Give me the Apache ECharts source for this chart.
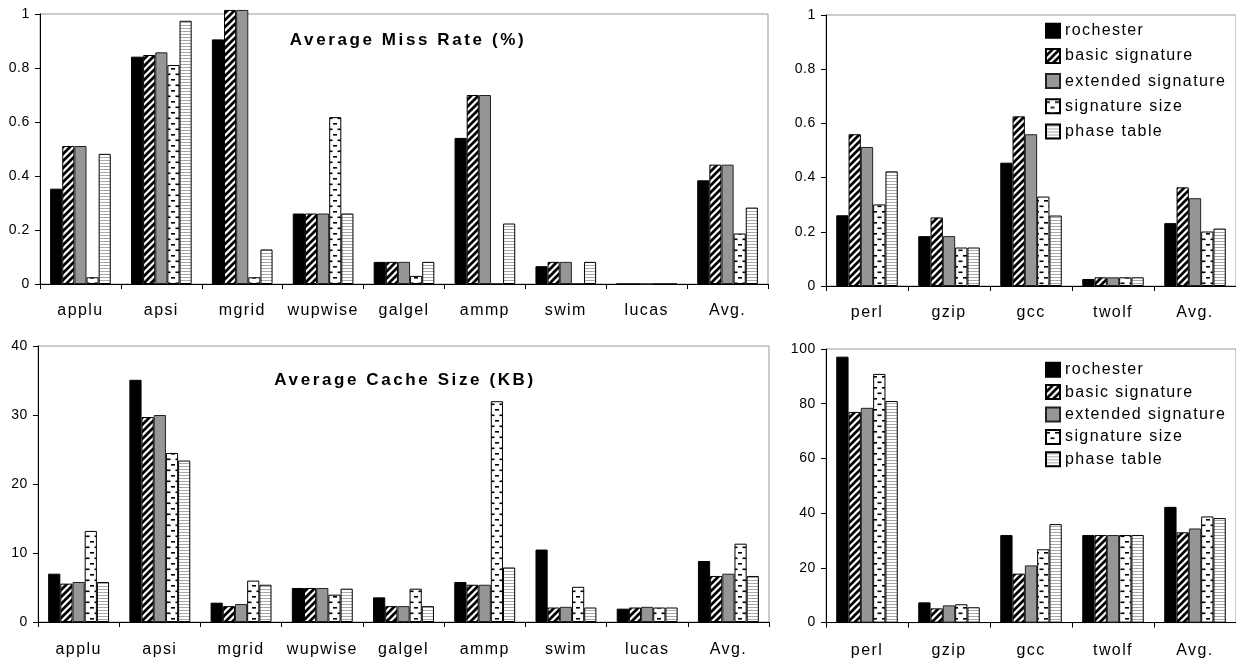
<!DOCTYPE html>
<html>
<head>
<meta charset="utf-8">
<title>Average Miss Rate and Cache Size</title>
<script src="https://cdn.jsdelivr.net/npm/echarts@6/dist/echarts.min.js"></script>
<style>
  html, body { margin: 0; padding: 0; background: #fff; }
  #chart { width: 1236px; height: 659px; }
</style>
</head>
<body>
<div id="chart"></div>
<script>
// ---- data ----------------------------------------------------------------
const fpBenchmarks = ['applu', 'apsi', 'mgrid', 'wupwise', 'galgel', 'ammp', 'swim', 'lucas', 'Avg.'];
const intBenchmarks = ['perl', 'gzip', 'gcc', 'twolf', 'Avg.'];
const schemeNames = ['rochester', 'basic signature', 'extended signature', 'signature size', 'phase table'];

// Average miss rate (%), SPEC FP
const missFpRochester = [0.353, 0.842, 0.906, 0.261, 0.082, 0.541, 0.066, 0, 0.384];
const missFpBasic     = [0.511, 0.848, 1.015, 0.261, 0.082, 0.700, 0.082, 0, 0.442];
const missFpExtended  = [0.511, 0.858, 1.015, 0.261, 0.082, 0.700, 0.082, 0, 0.442];
const missFpSigSize   = [0.025, 0.811, 0.025, 0.618, 0.030, 0,     0,     0, 0.187];
const missFpPhase     = [0.482, 0.975, 0.128, 0.261, 0.082, 0.224, 0.082, 0, 0.283];

// Average miss rate (%), SPEC INT
const missIntRochester = [0.261, 0.184, 0.455, 0.026, 0.232];
const missIntBasic     = [0.560, 0.253, 0.626, 0.032, 0.364];
const missIntExtended  = [0.513, 0.184, 0.560, 0.032, 0.324];
const missIntSigSize   = [0.301, 0.142, 0.330, 0.032, 0.201];
const missIntPhase     = [0.423, 0.142, 0.260, 0.032, 0.212];

// Average cache size (KB), SPEC FP
const sizeFpRochester = [7.0, 35.1, 2.8, 4.93, 3.57, 5.8, 10.5, 1.93, 8.84];
const sizeFpBasic     = [5.56, 29.7, 2.3, 4.93, 2.3, 5.4, 2.1, 2.1, 6.67];
const sizeFpExtended  = [5.8, 30.0, 2.6, 4.93, 2.3, 5.4, 2.2, 2.2, 7.0];
const sizeFpSigSize   = [13.2, 24.5, 6.0, 3.96, 4.83, 32.0, 5.1, 2.1, 11.35];
const sizeFpPhase     = [5.8, 23.4, 5.4, 4.83, 2.3, 7.9, 2.1, 2.1, 6.67];

// Average cache size (KB), SPEC INT
const sizeIntRochester = [97.2, 7.4, 32.0, 32.0, 42.3];
const sizeIntBasic     = [77.0, 5.2, 17.9, 32.0, 33.0];
const sizeIntExtended  = [78.5, 6.3, 20.9, 32.0, 34.4];
const sizeIntSigSize   = [90.9, 6.7, 26.8, 32.0, 38.8];
const sizeIntPhase     = [81.0, 5.6, 36.0, 32.0, 38.2];

const missTitle = 'Average Miss Rate (%)';
const sizeTitle = 'Average Cache Size (KB)';

// ---- loose letter spacing for chart text, keyed by font size (px) ---------
const LETTER_SPACING = { 14: 0.6, 16: 1.4, 17: 2.6 };
(function () {
  const proto = CanvasRenderingContext2D.prototype;
  if (!('letterSpacing' in proto)) return;
  const apply = (ctx) => {
    const m = /(\d+(?:\.\d+)?)px/.exec(ctx.font || '');
    const s = m ? LETTER_SPACING[Math.round(+m[1])] : 0;
    ctx.letterSpacing = (s || 0) + 'px';
  };
  ['fillText', 'strokeText', 'measureText'].forEach((fn) => {
    const orig = proto[fn];
    proto[fn] = function () { apply(this); return orig.apply(this, arguments); };
  });
})();

// ---- fill patterns ---------------------------------------------------------
function tile(w, h, draw) {
  const c = document.createElement('canvas');
  c.width = w; c.height = h;
  const ctx = c.getContext('2d');
  ctx.fillStyle = '#fff';
  ctx.fillRect(0, 0, w, h);
  draw(ctx, w, h);
  return { image: c, repeat: 'repeat' };
}
const diagonalStripes = tile(7, 7, (ctx, s) => {
  ctx.strokeStyle = '#000';
  ctx.lineWidth = 2.7;
  ctx.beginPath();
  ctx.moveTo(-1, 1); ctx.lineTo(1, -1);
  ctx.moveTo(0, s); ctx.lineTo(s, 0);
  ctx.moveTo(s - 1, s + 1); ctx.lineTo(s + 1, s - 1);
  ctx.stroke();
});
const brickDashes = tile(9, 11, (ctx) => {
  ctx.fillStyle = '#000';
  ctx.fillRect(0, 2, 4, 1.6);
  ctx.fillRect(4.5, 7.5, 4, 1.6);
});
const thinLines = tile(4, 3, (ctx) => {
  ctx.fillStyle = '#a8a8a8';
  ctx.fillRect(0, 1, 4, 1);
});

const schemeStyles = [
  { color: '#000', borderColor: '#000', borderWidth: 1 },
  { color: diagonalStripes, borderColor: '#000', borderWidth: 1 },
  { color: '#969696', borderColor: '#222', borderWidth: 1 },
  { color: brickDashes, borderColor: '#000', borderWidth: 1 },
  { color: thinLines, borderColor: '#000', borderWidth: 1 }
];

// ---- layout helpers --------------------------------------------------------
const FONT = '"Liberation Sans", Arial, sans-serif';

const grids = [
  { left: 40, top: 14, width: 728, height: 270 },   // miss rate, FP
  { left: 826, top: 15, width: 415, height: 271 },  // miss rate, INT
  { left: 38, top: 346, width: 731, height: 276 },  // cache size, FP
  { left: 826, top: 349, width: 415, height: 274 }  // cache size, INT
].map((g) => Object.assign(g, { show: true, borderColor: '#999', borderWidth: 1, backgroundColor: 'transparent' }));

function categoryAxis(gridIndex, data, margin) {
  return {
    type: 'category', gridIndex, data,
    axisLine: { show: true, lineStyle: { color: '#000', width: 1 } },
    axisTick: { show: true, length: 5, lineStyle: { color: '#000' } },
    axisLabel: { interval: 0, margin, color: '#000', fontSize: 16, fontFamily: FONT },
    splitLine: { show: false }
  };
}
function valueAxis(gridIndex, max, interval) {
  return {
    type: 'value', gridIndex, min: 0, max, interval,
    axisLine: { show: true, lineStyle: { color: '#000', width: 1 } },
    axisTick: { show: true, length: 5, lineStyle: { color: '#000' } },
    axisLabel: { margin: 10, color: '#000', fontSize: 14, fontFamily: FONT },
    splitLine: { show: false }
  };
}
function panel(axisIndex, columns) {
  return schemeNames.map((name, i) => ({
    type: 'bar', name,
    xAxisIndex: axisIndex, yAxisIndex: axisIndex,
    data: columns[i],
    itemStyle: schemeStyles[i],
    barGap: '0%', barCategoryGap: '25%',
    clip: false,
    emphasis: { disabled: true },
    animation: false
  }));
}
function legendAt(top, itemGap) {
  return {
    data: schemeNames, orient: 'vertical', left: 1045, top, padding: 0,
    icon: 'rect', itemWidth: 14, itemHeight: 14, itemGap,
    selectedMode: false,
    textStyle: { color: '#000', fontSize: 16, lineHeight: 16, fontFamily: FONT }
  };
}

const chart = echarts.init(document.getElementById('chart'), null, { renderer: 'canvas' });
chart.setOption({
  animation: false,
  backgroundColor: '#fff',
  grid: grids,
  xAxis: [
    categoryAxis(0, fpBenchmarks, 18),
    categoryAxis(1, intBenchmarks, 18),
    categoryAxis(2, fpBenchmarks, 19),
    categoryAxis(3, intBenchmarks, 19)
  ],
  yAxis: [
    valueAxis(0, 1, 0.2),
    valueAxis(1, 1, 0.2),
    valueAxis(2, 40, 10),
    valueAxis(3, 100, 20)
  ],
  legend: [legendAt(22, 7.8), legendAt(361, 5)],
  graphic: [
    { type: 'text', x: 408, y: 40, z: 10,
      style: { text: missTitle, font: 'bold 17px ' + FONT, fill: '#000', align: 'center', verticalAlign: 'middle' } },
    { type: 'text', x: 405, y: 380, z: 10,
      style: { text: sizeTitle, font: 'bold 17px ' + FONT, fill: '#000', align: 'center', verticalAlign: 'middle' } }
  ],
  series: [].concat(
    panel(0, [missFpRochester, missFpBasic, missFpExtended, missFpSigSize, missFpPhase]),
    panel(1, [missIntRochester, missIntBasic, missIntExtended, missIntSigSize, missIntPhase]),
    panel(2, [sizeFpRochester, sizeFpBasic, sizeFpExtended, sizeFpSigSize, sizeFpPhase]),
    panel(3, [sizeIntRochester, sizeIntBasic, sizeIntExtended, sizeIntSigSize, sizeIntPhase])
  )
});
</script>
</body>
</html>
